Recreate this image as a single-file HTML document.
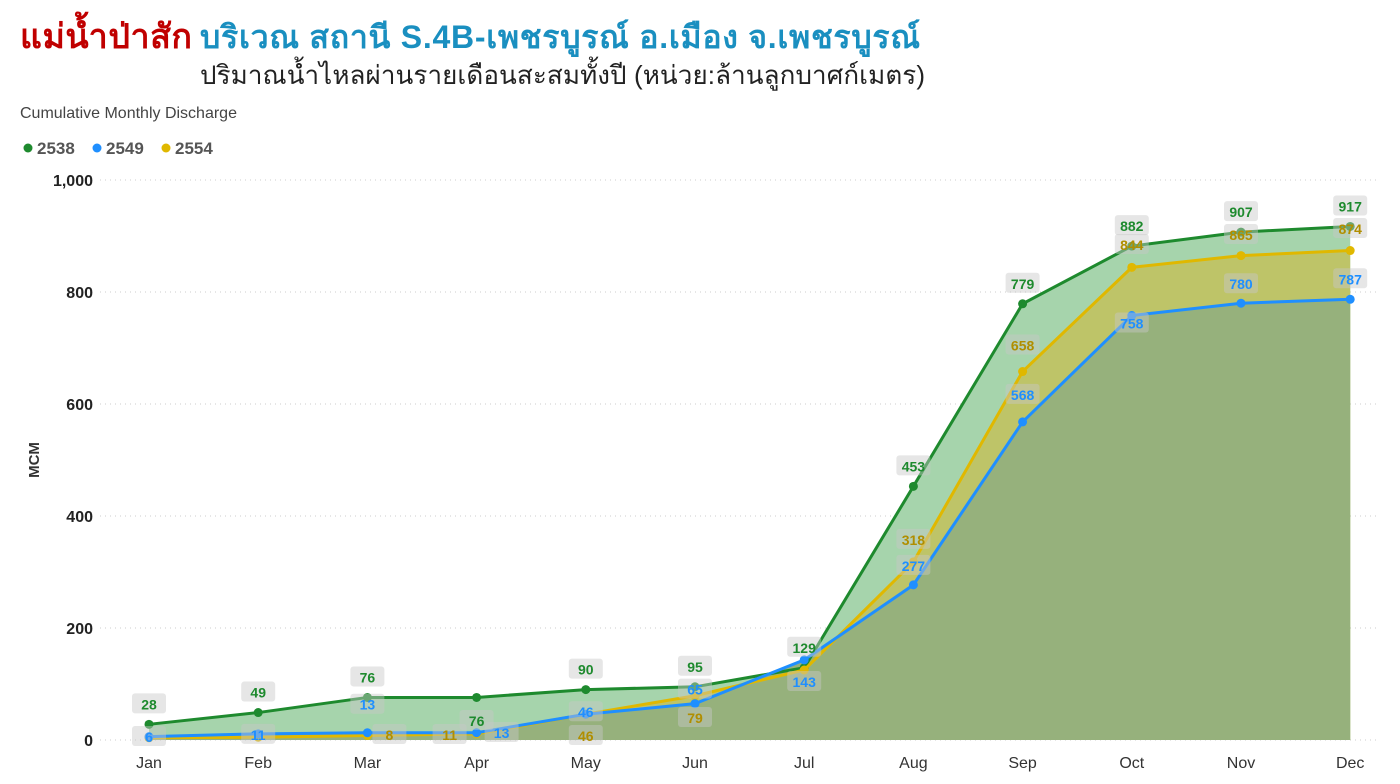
<!DOCTYPE html>
<html><head><meta charset="utf-8"><style>
body{margin:0;background:#fff;width:1400px;height:779px;overflow:hidden;font-family:"Liberation Sans","Noto Sans CJK SC",sans-serif}
</style></head><body>
<svg id="s" width="1400" height="779" xmlns="http://www.w3.org/2000/svg" font-family="Liberation Sans, DejaVu Sans, sans-serif">
<text x="20" y="48" font-size="34" font-weight="bold" fill="#c00000" textLength="172">แม่น้ำป่าสัก</text>
<text x="200" y="48" font-size="32" font-weight="bold" fill="#1a8fc0" textLength="720">บริเวณ สถานี S.4B-เพชรบูรณ์ อ.เมือง จ.เพชรบูรณ์</text>
<text x="200" y="84" font-size="26" fill="#222" textLength="725">ปริมาณน้ำไหลผ่านรายเดือนสะสมทั้งปี (หน่วย:ล้านลูกบาศก์เมตร)</text>
<text x="20" y="118" font-size="16" fill="#444">Cumulative Monthly Discharge</text>
<circle cx="28" cy="148" r="4.5" fill="#1e8a2e"/><text x="37" y="154" font-size="17" font-weight="bold" fill="#555">2538</text>
<circle cx="97" cy="148" r="4.5" fill="#1f8fff"/><text x="106" y="154" font-size="17" font-weight="bold" fill="#555">2549</text>
<circle cx="166" cy="148" r="4.5" fill="#e0b800"/><text x="175" y="154" font-size="17" font-weight="bold" fill="#555">2554</text>
<text transform="translate(39,460) rotate(-90)" text-anchor="middle" font-size="15" font-weight="bold" fill="#333">MCM</text>
<g id="g"></g>
</svg>
<script>
const g=document.getElementById('g');let h='';
const X=m=>149+m*109.2, Y=v=>740-v*0.56;
[0,200,400,600,800,1000].forEach(v=>{h+=`<line x1="100" x2="1380" y1="${Y(v)}" y2="${Y(v)}" stroke="#ccc" stroke-dasharray="1,4"/>`;
h+=`<text x="93" y="${Y(v)+6}" text-anchor="end" font-size="16" font-weight="bold" fill="#222">${v.toLocaleString('en-US')}</text>`});
const M=['Jan','Feb','Mar','Apr','May','Jun','Jul','Aug','Sep','Oct','Nov','Dec'];
M.forEach((m,i)=>h+=`<text x="${X(i)}" y="768" text-anchor="middle" font-size="16" fill="#333">${m}</text>`);
const G=[28,49,76,76,90,95,129,453,779,882,907,917],B=[6,11,13,13,46,65,143,277,568,758,780,787],Yl=[4,5,8,11,46,79,125,318,658,844,865,874];
const pts=a=>a.map((v,i)=>X(i)+','+Y(v)).join(' ');
const area=(a,c)=>h+=`<polygon points="${X(0)},740 ${pts(a)} ${X(11)},740" fill="${c}"/>`;
area(G,'#a6d4ac');area(Yl,'#bec468');area(B,'#96b17c');
const line=(a,c)=>{h+=`<polyline points="${pts(a)}" fill="none" stroke="${c}" stroke-width="3"/>`;a.forEach((v,i)=>h+=`<circle cx="${X(i)}" cy="${Y(v)}" r="4.5" fill="${c}"/>`)};
line(G,'#1e8a2e');line(Yl,'#e0b800');line(B,'#1f8fff');
const lab=(x,y,t,c)=>{h+=`<rect x="${x-17}" y="${y-10}" width="34" height="20" rx="3" fill="rgba(200,200,200,0.45)"/><text x="${x}" y="${y+6}" text-anchor="middle" font-size="14" font-weight="bold" fill="${c}">${t}</text>`};
G.forEach((v,i)=>lab(X(i),i==3?720:Y(v)-21,v,'#1e8a2e'));
const bo=[0,0,-29,0,-3,-15,-5,-20,-28,7,-20,-21];
B.forEach((v,i)=>{if(i==0)lab(X(0),736,6,'#1f8fff');else if(i==3)lab(X(i)+25,732,13,'#1f8fff');else if(i==6)lab(X(i),681,143,'#1f8fff');else lab(X(i),Y(v)+bo[i],v,'#1f8fff')});
const yo={2:[X(2)+22,734],3:[X(3)-27,734],4:[X(4),735],5:[X(5),717],7:[X(7),Y(318)-23],8:[X(8),Y(658)-27],9:[X(9),244],10:[X(10),234],11:[X(11),228]};
Yl.forEach((v,i)=>{if(yo[i])lab(yo[i][0],yo[i][1],v,'#b08e00')});
g.innerHTML=h;
</script>
</body></html>
